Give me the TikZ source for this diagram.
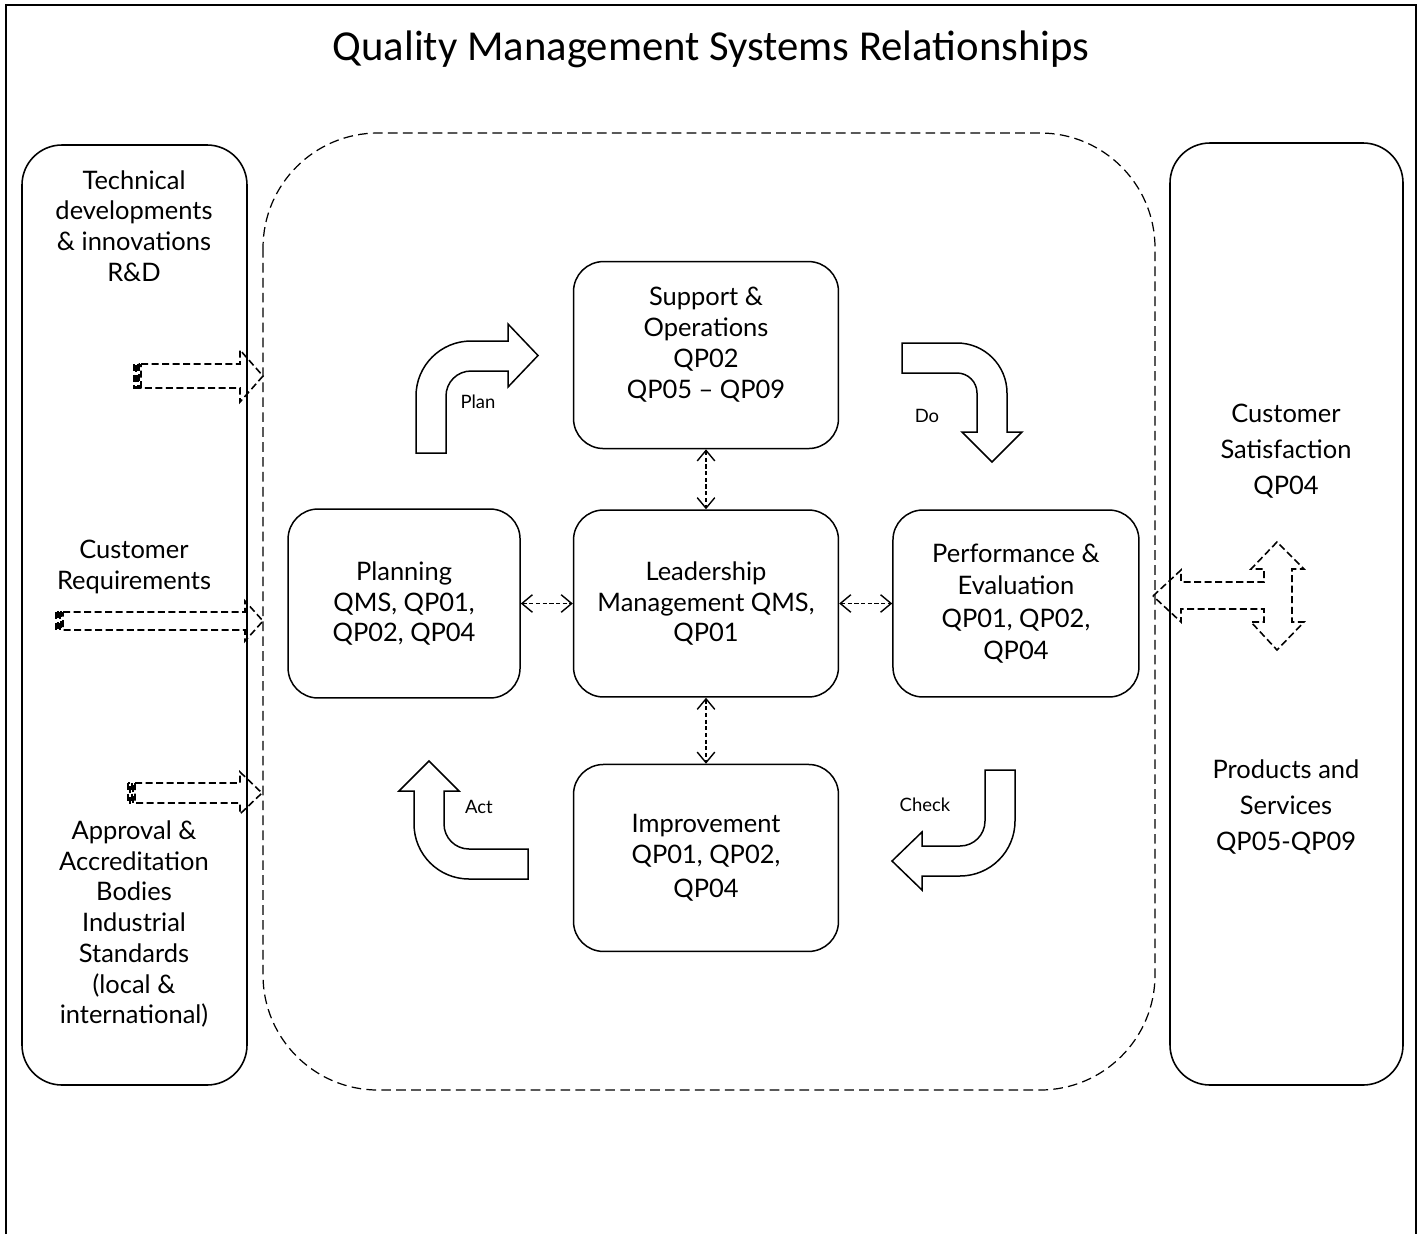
\documentclass[tikz,border=0pt]{standalone}
\usepackage{fontspec}
\setmainfont{Lato}
\newfontfamily\titlefont{Carlito}
\usetikzlibrary{positioning, arrows.meta}

\begin{document}
\begin{tikzpicture}[
    x=0.02cm, y=-0.02cm,
    node distance=1.2cm,
    every node/.style={font=\fontsize{14.5}{17.5}\selectfont, align=center},
    box/.style={draw, rounded corners=0.6cm, minimum width=5.3cm, minimum height=3.74cm, line width=0.85pt},
    panel/.style={draw, rounded corners=0.8cm, line width=0.9pt},
    zone/.style={draw, rounded corners=2.3cm, line width=0.7pt, dash pattern=on 5.5pt off 3pt},
    link/.style={{Straight Barb[length=6pt, width=10pt]}-{Straight Barb[length=6pt, width=10pt]}, line width=0.8pt, dash pattern=on 2.4pt off 1.4pt},
    bent/.style={draw, line width=0.85pt},
    feed/.style={draw, line width=0.9pt, dash pattern=on 4pt off 2pt},
    cue/.style={font=\fontsize{10.5}{12}\selectfont}
  ]
  \useasboundingbox (0,0) rectangle (1422,1234);

  % Frame and title
  \draw[line width=1.4pt] (6,1234) -- (6,5) -- (1416,5) -- (1416,1234);
  \node[font=\titlefont\fontsize{24.3}{28}\selectfont] (title) at (711,49) {Quality Management Systems Relationships};

  % Side panels and the QMS area
  \draw[panel] (22,145) rectangle (247,1085);
  \draw[panel] (1170,143) rectangle (1403,1085);
  \draw[zone] (263,133) rectangle (1155,1090);

  % Inputs
  \node (tech) at (134,226) {Technical\\developments\\\& innovations\\R\&D};
  \node (cust) at (134,567) {Customer\\Requirements};
  \node (appr) at (134,924) {Approval \&\\Accreditation\\Bodies\\Industrial\\Standards\\(local \&\\international)};

  % Outputs
  \node[font=\fontsize{14.5}{20.5}\selectfont] (sat) at (1286,451) {Customer\\Satisfaction\\QP04};
  \node[font=\fontsize{14.5}{20.5}\selectfont] (prod) at (1286,807) {Products and\\Services\\QP05-QP09};

  % Processes
  \node[box] (lead) at (706,603.5) {Leadership\\Management QMS,\\QP01};
  \node[box, above=of lead, text depth=14pt] (supp) {Support \&\\Operations\\QP02\\QP05 -- QP09};
  \node[box, below=1.32cm of lead] (impr) {Improvement\\QP01, QP02,\\[2pt]QP04};
  \node[box, minimum width=4.64cm, minimum height=3.78cm, left=1.04cm of lead] (plan) {Planning\\QMS, QP01,\\QP02, QP04};
  \node[box, minimum width=4.92cm, right=1.06cm of lead, font=\fontsize{14.5}{18.5}\selectfont] (perf) {Performance \&\\Evaluation\\QP01, QP02,\\QP04};

  \draw[link] (supp) -- (lead);
  \draw[link] (lead) -- (impr);
  \draw[link] (plan) -- (lead);
  \draw[link] (lead) -- (perf);

  % Cycle arrows
  \draw[bent] (416,453) -- (416,396) arc[start angle=180, end angle=90, radius=1.1cm]
    -- (508,341) -- (508,324) -- (538,355.5) -- (508,387) -- (508,371)
    -- (471,371) arc[start angle=90, end angle=180, radius=0.5cm] -- (446,453) -- cycle;
  \draw[bent] (902,343) -- (957,343) arc[start angle=90, end angle=0, radius=1cm]
    -- (1007,432) -- (1022,432) -- (992,462) -- (962,432) -- (977,432)
    -- (977,393) arc[start angle=0, end angle=90, radius=0.4cm] -- (902,373) -- cycle;
  \draw[bent] (1015,770) -- (1015,821) arc[start angle=0, end angle=-90, radius=1.1cm]
    -- (922,876) -- (922,890) -- (892,861) -- (922,832) -- (922,846)
    -- (960,846) arc[start angle=-90, end angle=0, radius=0.5cm] -- (985,770) -- cycle;
  \draw[bent] (528,879) -- (469,879) arc[start angle=-90, end angle=-180, radius=1.1cm]
    -- (414,791) -- (399,791) -- (429,761) -- (459,791) -- (444,791)
    -- (444,824) arc[start angle=180, end angle=270, radius=0.5cm] -- (528,849) -- cycle;

  \node[cue] (plantxt) at (478,402) {Plan};
  \node[cue] (dotxt) at (927,416) {Do};
  \node[cue] (checktxt) at (925,805) {Check};
  \node[cue] (acttxt) at (479,807) {Act};

  % Striped input arrows
  \draw[feed] (134,364) rectangle (136,388) (138,364) rectangle (139,388);
  \draw[feed] (141,364) -- (240,364) -- (240,350) -- (263,376) -- (240,402) -- (240,388) -- (141,388) -- cycle;
  \draw[feed] (56,612) rectangle (58,630) (60,612) rectangle (61,630);
  \draw[feed] (63,612) -- (245,612) -- (245,601) -- (263,621) -- (245,641) -- (245,630) -- (63,630) -- cycle;
  \draw[feed] (128,783) rectangle (130,803) (132,783) rectangle (133,803);
  \draw[feed] (135,783) -- (240,783) -- (240,772) -- (262,793) -- (240,814) -- (240,803) -- (135,803) -- cycle;

  % Output arrow
  \draw[feed] (1153,596) -- (1181,570) -- (1181,582) -- (1264,582) -- (1264,569) -- (1251,569)
    -- (1277,542) -- (1304,569) -- (1292,569) -- (1292,622) -- (1304,622) -- (1277,650)
    -- (1251,622) -- (1264,622) -- (1264,609) -- (1181,609) -- (1181,622) -- cycle;
\end{tikzpicture}
\end{document}
